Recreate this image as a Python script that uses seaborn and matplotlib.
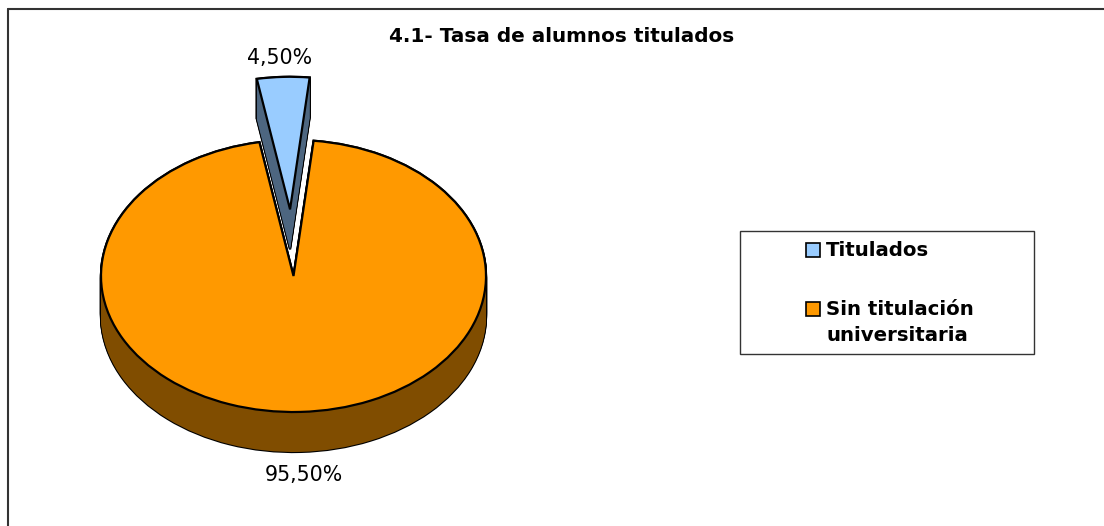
import matplotlib
matplotlib.use("Agg")
import matplotlib.pyplot as plt
from matplotlib.lines import Line2D
from matplotlib.patches import Rectangle
import seaborn as sns

categories = ["Titulados", "Sin titulación\nuniversitaria"]
values = [4.5, 95.5]
top_colors = ["#99CCFF", "#FF9900"]
side_colors = ["#4D6680", "#804D00"]
title = "4.1- Tasa de alumnos titulados"

W, H = 1104, 526
CX, CY = 293.5, 276   # pie centre in pixels
RX, RY = 192.5, 136   # ellipse radii in pixels
DEPTH = 40 / RY
EXPLODE = 0.49
START = 84

sns.set_theme(style="white")
plt.rcParams["font.family"] = ["DejaVu Sans"]

fig = plt.figure(figsize=(W / 100, H / 100), dpi=100, facecolor="white")
ax = fig.add_axes([0, 0, 1, 1])


def px(x, y):
    return x / W, 1 - y / H


def slab(index, radius):
    # one slice as a black silhouette, then the side, then the top face
    expl = [EXPLODE, 0]
    steps = 41
    for layer in range(2):
        for s in range(steps):
            wedges, _ = ax.pie(values, explode=expl, startangle=START, radius=radius,
                               center=(0, -DEPTH * s / (steps - 1)),
                               colors=["none", "none"],
                               wedgeprops=dict(linewidth=0))
            w = wedges[index]
            if layer == 0:
                w.set(facecolor="black", edgecolor="black", linewidth=1.6)
            else:
                w.set(facecolor=side_colors[index], edgecolor=side_colors[index], linewidth=0)
            wedges[1 - index].remove()
    wedges, _ = ax.pie(values, explode=expl, startangle=START, radius=radius, center=(0, 0),
                       colors=["none", "none"])
    wedges[index].set(facecolor=top_colors[index], edgecolor="black", linewidth=1.6)
    wedges[1 - index].remove()


slab(1, 1)
slab(0, 0.975)

# stretch the data units to the flattened ellipse of the 3-D look
ax.set_aspect("auto")
ax.set_xlim(-CX / RX, (W - CX) / RX)
ax.set_ylim((CY - H) / RY, CY / RY)
ax.axis("off")

# outer frame: only left and top lines reach the image
fig.add_artist(Line2D([7.5 / W, 7.5 / W], [0, 1 - 8.5 / H], color="#333333", lw=1.5))
fig.add_artist(Line2D([7.5 / W, 1], [1 - 8.5 / H, 1 - 8.5 / H], color="#333333", lw=1.5))

x, y = px(561.5, 37)
fig.text(x, y, title, ha="center", va="center", fontsize=14.4, fontweight="bold", color="black")

for val, pos in zip(values, [(280, 58), (304, 475)]):
    x, y = px(*pos)
    fig.text(x, y, f"{val:.2f}%".replace(".", ","), ha="center", va="center",
             fontsize=14.8, color="black")

# legend box with swatches aligned to the first line of each label
fig.add_artist(Rectangle((740 / W, 1 - 354 / H), 294 / W, 123 / H, transform=fig.transFigure,
                         facecolor="white", edgecolor="#333333", lw=1.0))
for cat, col, row in zip(categories, top_colors, [250, 309]):
    fig.add_artist(Rectangle((806 / W, 1 - (row + 7) / H), 14 / W, 14 / H, transform=fig.transFigure,
                             facecolor=col, edgecolor="black", lw=1.2))
    x, y = px(826, row - 9)
    fig.text(x, y, cat, ha="left", va="top", fontsize=14.2, fontweight="bold",
             color="black", linespacing=1.48)

fig.savefig("out.png", dpi=100)
